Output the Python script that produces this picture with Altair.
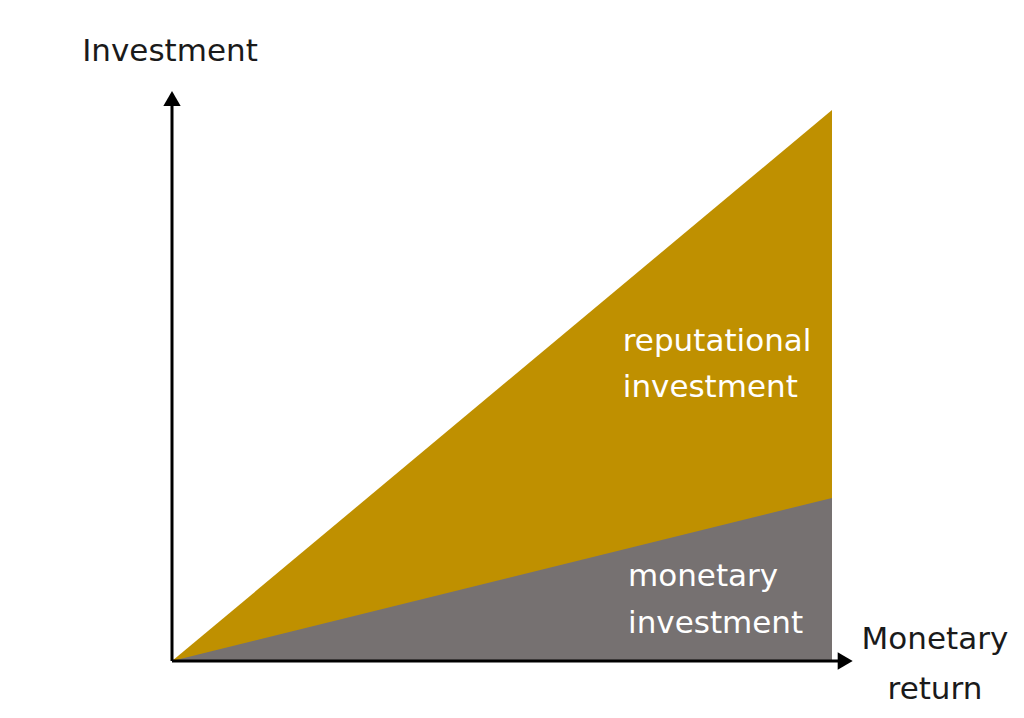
import altair as alt
import pandas as pd

# Data
ret_x = [0, 100]
total_inv = [0, 100]
monetary_inv = [0, 29.6]
axis_end_x = 103.5
axis_end_y = 104.0

labels_text = ["Investment", "Monetary", "return"]
labels_x = [-0.3, 115.6, 115.6]
labels_y = [110.5, 3.8, -5.3]

inner_text = ["reputational", "investment", "monetary", "investment"]
inner_x = [68.3, 68.3, 69.1, 69.1]
inner_y = [57.9, 49.5, 15.2, 6.7]

FONT = "DejaVu Sans"
GOLD = "#BF9000"
GRAY = "#767171"

xs = alt.Scale(domain=[-24.85, 127.88], nice=False, zero=False)
ys = alt.Scale(domain=[-8.89, 118.51], nice=False, zero=False)

area_df = pd.DataFrame({"x": ret_x, "top": total_inv, "mon": monetary_inv})
gold = alt.Chart(area_df).mark_area(color=GOLD, opacity=1).encode(
    x=alt.X("x:Q", scale=xs, axis=None),
    y=alt.Y("top:Q", scale=ys, axis=None),
    y2=alt.datum(0),
)
gray = alt.Chart(area_df).mark_area(color=GRAY, opacity=1).encode(
    x=alt.X("x:Q", scale=xs, axis=None),
    y=alt.Y("mon:Q", scale=ys, axis=None),
    y2=alt.datum(0),
)

axes_df = pd.DataFrame({"x": [0, 0], "y": [0, 0], "x2": [axis_end_x - 1.5, 0], "y2": [0, axis_end_y - 2.0]})
axes = alt.Chart(axes_df).mark_rule(color="black", strokeWidth=3).encode(
    x=alt.X("x:Q", scale=xs, axis=None),
    y=alt.Y("y:Q", scale=ys, axis=None),
    x2="x2:Q",
    y2="y2:Q",
)

arrow_df = pd.DataFrame({"x": [axis_end_x - 1.5, 0], "y": [0, axis_end_y - 1.9], "shape": ["triangle-right", "triangle-up"]})
arrows = alt.Chart(arrow_df).mark_point(filled=True, color="black", opacity=1, size=300).encode(
    x=alt.X("x:Q", scale=xs, axis=None),
    y=alt.Y("y:Q", scale=ys, axis=None),
    shape=alt.Shape("shape:N", scale=None, legend=None),
)

lab_df = pd.DataFrame({"t": labels_text, "x": labels_x, "y": labels_y})
labels = alt.Chart(lab_df).mark_text(font=FONT, fontSize=31, color="#1a1a1a", align="center", baseline="middle").encode(
    x=alt.X("x:Q", scale=xs, axis=None),
    y=alt.Y("y:Q", scale=ys, axis=None),
    text="t:N",
)

in_df = pd.DataFrame({"t": inner_text, "x": inner_x, "y": inner_y})
inner = alt.Chart(in_df).mark_text(font=FONT, fontSize=31, color="white", align="left", baseline="middle").encode(
    x=alt.X("x:Q", scale=xs, axis=None),
    y=alt.Y("y:Q", scale=ys, axis=None),
    text="t:N",
)

chart = alt.layer(gold, gray, axes, arrows, labels, inner).properties(
    width=1008, height=702, padding=0, autosize=alt.AutoSizeParams(type="none")
).configure_view(stroke=None)

chart.save("out.html", embed_options={"renderer": "svg", "actions": False})
